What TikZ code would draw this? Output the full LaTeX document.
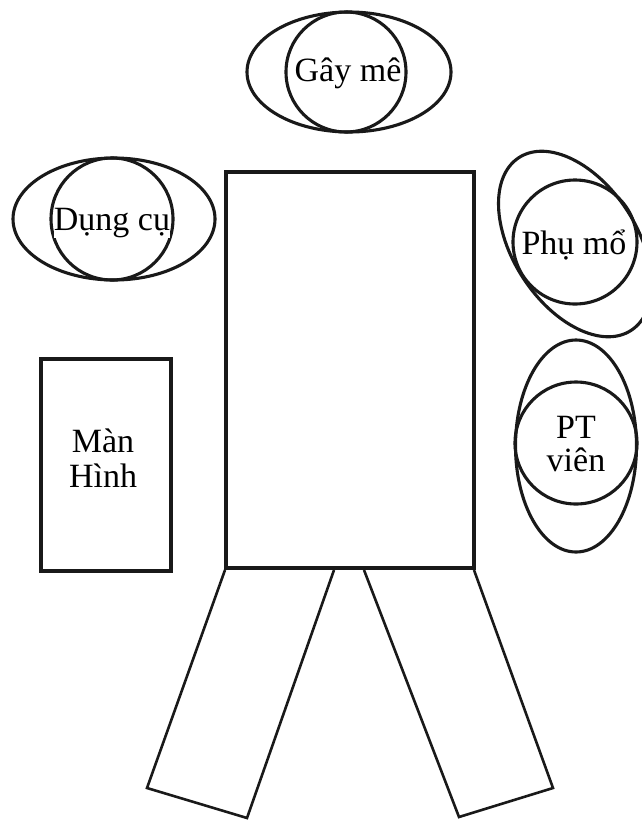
\documentclass[tikz,border=0pt]{standalone}
\usepackage{fontspec}
\setmainfont{Liberation Serif}
\usetikzlibrary{shapes.geometric}
\begin{document}
\begin{tikzpicture}[x=1pt,y=1pt,
  ring/.style={draw=black!90,line width=3.1pt,ellipse,inner sep=0pt},
  disc/.style={draw=black!90,line width=3.1pt,circle,inner sep=0pt},
  lbl/.style={font=\fontsize{34}{35}\selectfont,inner sep=0pt,align=center},
  wlbl/.style={lbl,fill=white},
  frame/.style={draw=black!90,line width=3.6pt},
  leg/.style={draw=black!90,line width=2.6pt,line join=miter}]
\useasboundingbox (0,0) rectangle (641,-820);
% Gay me
\node[ring,minimum width=204pt,minimum height=120pt] (gme) at (349,-72) {};
\node[disc,minimum size=120pt] (gmc) at (346,-72) {};
\node[lbl] (gmt) at (348,-73) {Gây mê};
% Dung cu
\node[ring,minimum width=202pt,minimum height=122pt] (dce) at (114,-219) {};
\node[disc,minimum size=122pt] (dcc) at (112,-219) {};
\node[wlbl] (dct) at (112,-223) {Dụng cụ};
% Phu mo
\node[ring,minimum width=124pt,minimum height=206pt,rotate=33] (pme) at (575,-244) {};
\node[disc,minimum size=124pt] (pmc) at (575,-242) {};
\node[wlbl] (pmt) at (574,-245) {Phụ mổ};
% PT vien
\node[ring,minimum width=121pt,minimum height=212pt] (pte) at (576,-446) {};
\node[disc,minimum size=122pt] (ptc) at (576,-443) {};
\node[lbl] (ptt) at (576,-444) {PT\\[-2pt]viên};
% Man hinh
\node[frame,line width=4.5pt,minimum width=130pt,minimum height=212pt] (mh) at (106,-465) {};
\node[lbl] (mht) at (103,-458) {Màn\\[0pt]Hình};
% body
\node[frame,minimum width=248pt,minimum height=396pt] (body) at (350,-370) {};
% legs
\coordinate (l1) at (225,-570);
\coordinate (l2) at (334,-570);
\coordinate (l3) at (247,-818);
\coordinate (l4) at (147,-788);
\coordinate (r1) at (364,-570);
\coordinate (r2) at (474,-570);
\coordinate (r3) at (553,-788);
\coordinate (r4) at (459,-817);
\draw[leg] (l1) -- (l4) -- (l3) -- (l2);
\draw[leg] (r1) -- (r4) -- (r3) -- (r2);
\end{tikzpicture}
\end{document}
